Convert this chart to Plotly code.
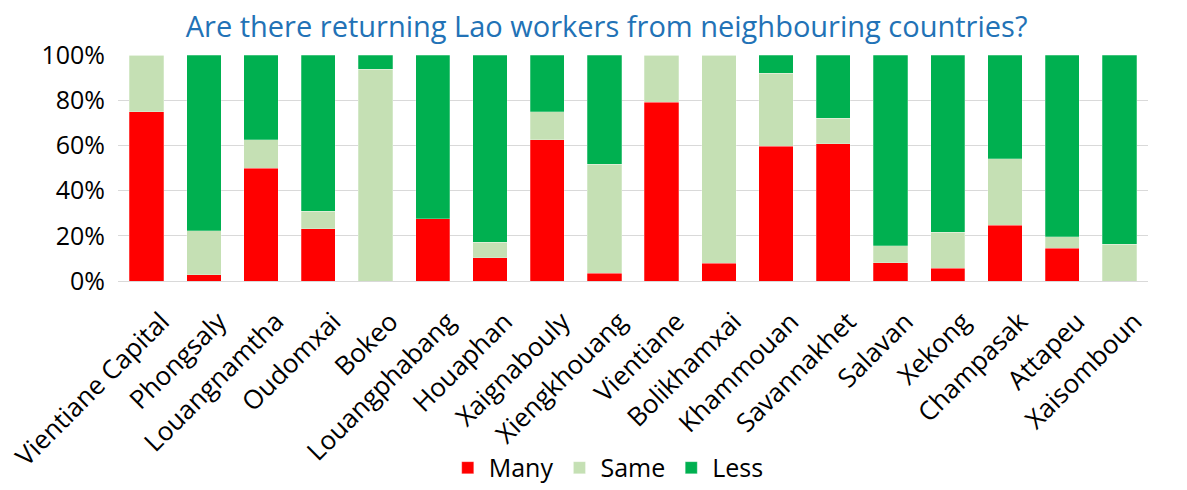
import plotly.graph_objects as go

provinces = [
    "Vientiane Capital", "Phongsaly", "Louangnamtha", "Oudomxai", "Bokeo",
    "Louangphabang", "Houaphan", "Xaignabouly", "Xiengkhouang", "Vientiane",
    "Bolikhamxai", "Khammouan", "Savannakhet", "Salavan", "Xekong",
    "Champasak", "Attapeu", "Xaisomboun",
]

# Shares of respondents (fractions of 1)
many = [0.75, 0.027, 0.50, 0.231, 0.0, 0.275, 0.103, 0.625, 0.034, 0.791,
        0.078, 0.596, 0.607, 0.080, 0.057, 0.246, 0.144, 0.0]
same = [0.25, 0.195, 0.125, 0.077, 0.9375, 0.0, 0.069, 0.125, 0.483, 0.209,
        0.922, 0.324, 0.113, 0.075, 0.158, 0.294, 0.052, 0.163]
less = [0.0, 0.778, 0.375, 0.692, 0.0625, 0.725, 0.828, 0.25, 0.483, 0.0,
        0.0, 0.08, 0.28, 0.845, 0.785, 0.46, 0.804, 0.837]

series = [
    ("Many", many, "#FF0000"),
    ("Same", same, "#C5E0B4"),
    ("Less", less, "#00B050"),
]

fig = go.Figure()
for name, vals, color in series:
    fig.add_trace(go.Bar(
        name=name, x=provinces, y=vals,
        marker=dict(color=color, line=dict(color="rgba(255,255,255,0.5)", width=0.5)),
    ))

fig.update_layout(
    barmode="stack",
    bargap=0.4,
    width=1187, height=490,
    margin=dict(l=118, r=39, t=55, b=209, autoexpand=False),
    plot_bgcolor="white", paper_bgcolor="white",
    font=dict(family="Open Sans", size=25, color="#000000"),
    title=dict(
        text="Are there returning Lao workers from neighbouring countries?",
        font=dict(family="Open Sans", size=29, color="#2272B6"),
        x=0.511, xanchor="center", y=0.945, yanchor="middle",
    ),
    legend=dict(
        orientation="h", xref="container", x=0.512, xanchor="center",
        yref="container", y=0.045, yanchor="middle",
        font=dict(size=25), traceorder="normal", itemwidth=32,
    ),
    xaxis=dict(tickangle=-45, tickfont=dict(size=26), showgrid=False,
               showline=True, linecolor="#D9D9D9", linewidth=1,
               automargin=False, ticklabelshift=15, ticklabelstandoff=14),
    yaxis=dict(range=[0, 1], tickformat=".0%", dtick=0.2,
               tickfont=dict(size=25), showgrid=True, gridcolor="#D9D9D9",
               gridwidth=1, zeroline=False, ticks="", ticklen=0,
               automargin=False, ticklabelstandoff=12),
)

fig.write_html("out.html")
